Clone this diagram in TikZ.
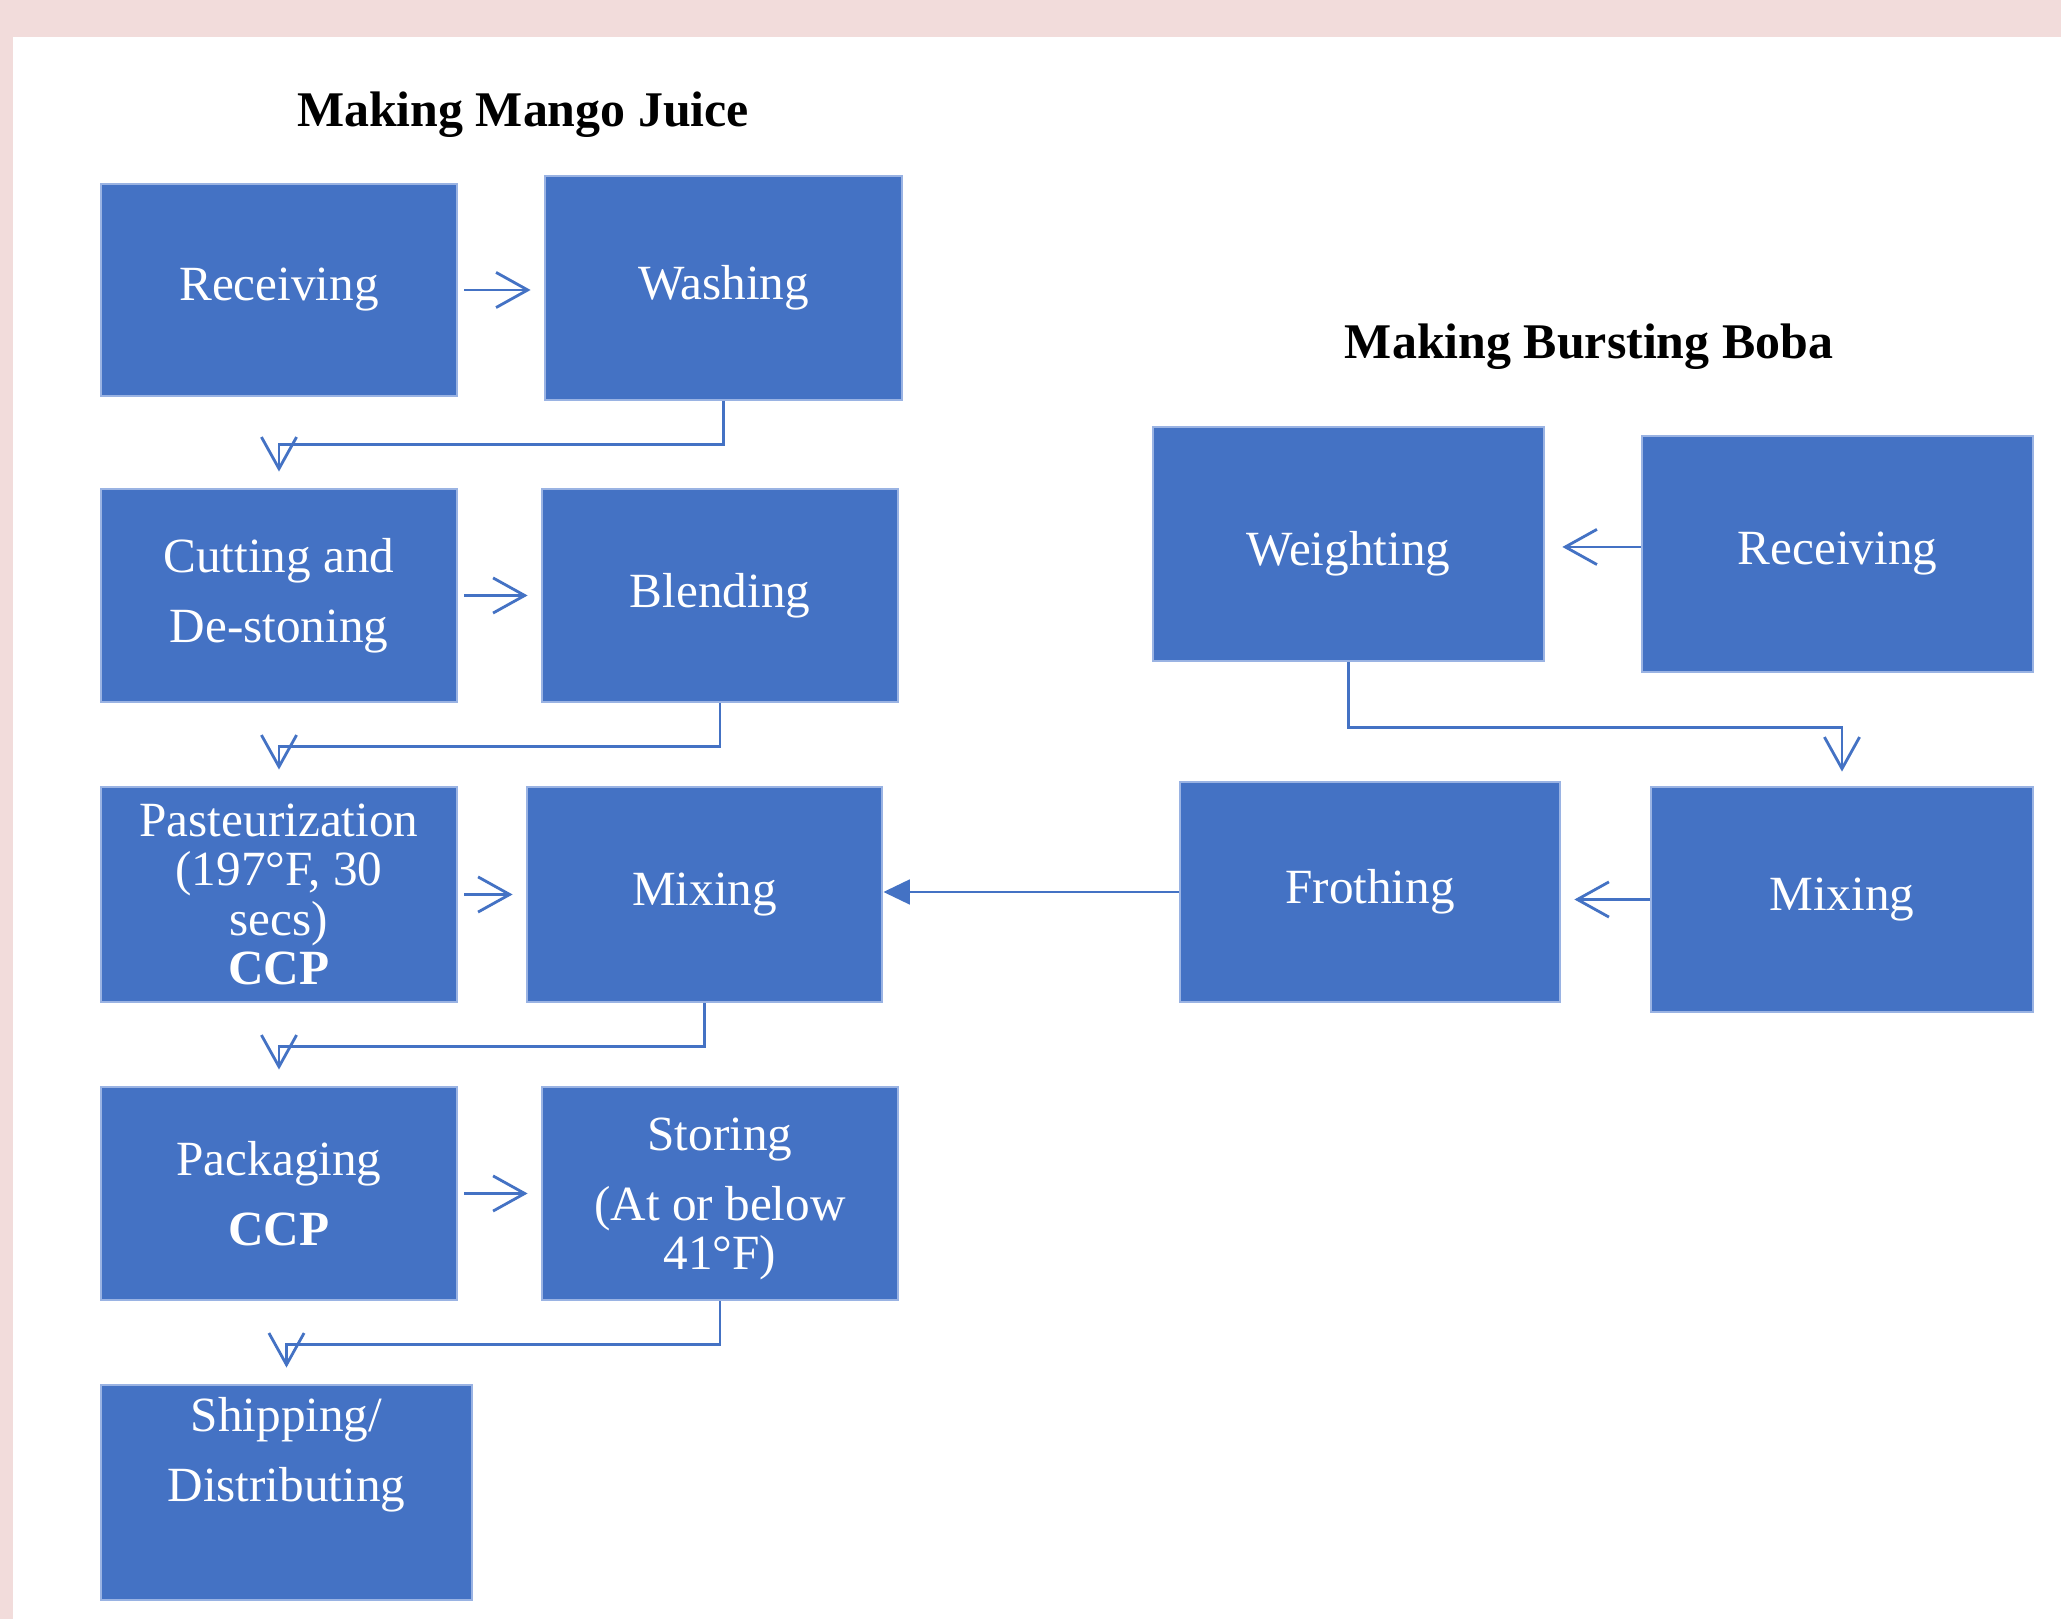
\documentclass[tikz,border=0pt]{standalone}
\usepackage{fontspec}
\setmainfont{Liberation Serif}
\usetikzlibrary{arrows.meta}
\definecolor{boxblue}{HTML}{4472C4}
\definecolor{boxedge}{HTML}{9AB3E3}
\definecolor{framepink}{HTML}{F2DCDB}
\tikzset{
    proc/.style={rectangle, fill=boxblue, draw=boxedge, line width=0.8pt, text=white, align=center, inner sep=2pt, font=\fontsize{14pt}{20pt}\selectfont}, % 流程方框
    tight/.style={font=\fontsize{14pt}{14pt}\selectfont}, % 行距较小的文字
    heading/.style={font=\fontsize{14.2pt}{17pt}\selectfont\bfseries}, % 标题
    flow/.style={draw=boxblue, line width=0.8pt, -{Straight Barb[length=9pt, width=10pt]}} % 空心箭头
}

\begin{document}
\begin{tikzpicture}[x=0.1mm, y=-0.1mm]
    \useasboundingbox (0,0) rectangle (2061,1619);
    \fill[framepink] (0,0) rectangle (2061,1619);
    \fill[white] (13,37) rectangle (2061,1619);

    \node[heading] (tjuice) at (523,115) {Making Mango Juice};
    \node[heading] (tboba) at (1589,347) {Making Bursting Boba};

    % 芒果汁
    \node[proc, minimum width=35.6mm, minimum height=21.2mm] (recvM) at (279,290) {Receiving};
    \node[proc, minimum width=35.7mm, minimum height=22.4mm] (wash) at (723.5,288) {Washing};
    \node[proc, minimum width=35.6mm, minimum height=21.3mm] (cut) at (279,595.5) {Cutting and\\De-stoning};
    \node[proc, minimum width=35.6mm, minimum height=21.3mm] (blend) at (720,595.5) {Blending};
    \node[proc, tight, minimum width=35.6mm, minimum height=21.5mm] (past) at (279,894.5) {Pasteurization\\(197°F, 30\\secs)\\\textbf{CCP}};
    \node[proc, minimum width=35.5mm, minimum height=21.5mm] (mixM) at (704.5,894.5) {Mixing};
    \node[proc, minimum width=35.6mm, minimum height=21.3mm] (pack) at (279,1193.5) {Packaging\\\textbf{CCP}};
    \node[proc, tight, text depth=0pt, minimum width=35.6mm, minimum height=21.3mm] (store) at (720,1193.5) {Storing\\[6pt](At or below\\41°F)};
    \node[proc, text depth=24.7pt, minimum width=37.1mm, minimum height=21.5mm] (ship) at (286.5,1492.5) {Shipping/\\Distributing};

    % 爆珠
    \node[proc, text height=12pt, text depth=0pt, minimum width=39.1mm, minimum height=23.4mm] (weigh) at (1348.5,544) {Weighting};
    \node[proc, minimum width=39.1mm, minimum height=23.6mm] (recvB) at (1837.5,554) {Receiving};
    \node[proc, minimum width=38mm, minimum height=22mm] (froth) at (1370,892) {Frothing};
    \node[proc, minimum width=38.2mm, minimum height=22.5mm] (mixB) at (1842,899.5) {Mixing};

    \foreach \a/\b in {recvM/wash, cut/blend, past/mixM, pack/store}
        \draw[flow, shorten <=0.6mm, shorten >=1.3mm] (\a.east) -- (\a.east -| \b.west);
    \foreach \a/\b in {wash/cut, blend/past, mixM/pack, store/ship}
        \draw[flow, shorten >=1.6mm] (\a.south) -- ++(0,43) -| (\b.north);

    \draw[flow, shorten >=1.7mm] ([yshift=2pt]recvB.west) -- ([yshift=2pt]recvB.west -| weigh.east);
    \draw[flow, shorten >=1.4mm] (weigh.south) -- ++(0,65) -| (mixB.north);
    \draw[flow, shorten >=1.3mm] (mixB.west) -- (mixB.west -| froth.east);
    \draw[boxblue, line width=0.8pt, -{Triangle[length=7.5pt, width=7pt]}] (froth.west) -- (froth.west -| mixM.east);
\end{tikzpicture}
\end{document}
